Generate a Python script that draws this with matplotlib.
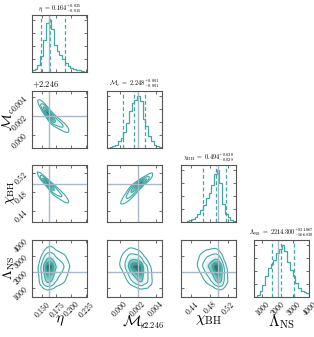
import numpy as np
import matplotlib
matplotlib.use("Agg")
import matplotlib.pyplot as plt
from matplotlib.colors import LinearSegmentedColormap
from matplotlib.ticker import FixedLocator, FuncFormatter, MaxNLocator

plt.rcParams['mathtext.fontset'] = 'cm'
plt.rcParams['font.family'] = 'serif'
plt.rcParams['font.serif'] = ['DejaVu Serif']

# ---------------- data ----------------
labels = [r"$\eta$", r"$\mathcal{M}_c$", r"$\chi_{\rm BH}$", r"$\Lambda_{\rm NS}$"]
titles = [r"$\eta\ =\ 0.164^{+0.025}_{-0.015}$",
          r"$\mathcal{M}_c\ =\ 2.248^{+0.001}_{-0.001}$",
          r"$\chi_{\rm BH}\ =\ 0.494^{+0.020}_{-0.028}$",
          r"$\Lambda_{\rm NS}\ =\ 2214.300^{+831.067}_{-566.830}$"]

eta_range = (0.1336, 0.2266)
mc_range = (2.2446, 2.2507)
chi_range = (0.417, 0.538)
lam_range = (490.0, 4000.0)

eta_counts = [2, 5, 12, 30, 62, 95, 100, 82, 52, 40, 32, 25, 17, 10, 7, 5, 3, 2, 1, 0]
mc_counts = [0, 1, 2, 5, 12, 18, 30, 48, 72, 86, 93, 100, 90, 55, 42, 22, 12, 5, 2, 1]
chi_counts = [0, 0, 1, 2, 4, 8, 14, 22, 32, 45, 55, 72, 92, 100, 75, 35, 15, 8, 2, 1]
lam_counts = [0, 3, 10, 22, 40, 55, 64, 72, 84, 93, 100, 88, 68, 52, 40, 26, 17, 11, 8, 6]

eta_q = [0.149, 0.164, 0.189]
mc_q = [2.24637, 2.24759, 2.2488]
chi_q = [0.466, 0.494, 0.515]
lam_q = [1647.47, 2214.30, 3045.37]

truths = [0.162, 2.248, 0.498, 2000.0]

eta_ticks = [0.150, 0.175, 0.200, 0.225]
mc_ticks = [2.246, 2.248, 2.250]
chi_ticks = [0.44, 0.48, 0.52]
lam_ticks = [1000, 2000, 3000, 4000]
mc_offset = 2.246

# correlation between parameter pairs (row, col)
pair_rho = {(1, 0): -0.93, (2, 0): -0.95, (2, 1): 0.93,
            (3, 0): 0.10, (3, 1): -0.35, (3, 2): -0.30}

ranges = [eta_range, mc_range, chi_range, lam_range]
counts = [eta_counts, mc_counts, chi_counts, lam_counts]
quants = [eta_q, mc_q, chi_q, lam_q]
ticks = [eta_ticks, mc_ticks, chi_ticks, lam_ticks]
fmts = [lambda v: f"${v:.3f}$",
        lambda v: f"${v - mc_offset:.3f}$",
        lambda v: f"${v:.2f}$",
        lambda v: f"${v:.0f}$"]

# ---------------- styling ----------------
teal = "#3ea8a3"
truth_c = "#a9b9c9"
spine_c = "#555555"
dens_cmap = LinearSegmentedColormap.from_list(
    "dens", [(1, 1, 1, 0), (0.80, 0.92, 0.91, 0.7), (0.30, 0.68, 0.66, 1.0), (0.18, 0.40, 0.40, 1.0)])

W, H = 314, 337
fig = plt.figure(figsize=(W / 100, H / 100), dpi=100)
left_px = [32, 107, 181, 254]
top_px = [15, 91, 165, 240]
aw, ah = 55, 56.5

zz = np.linspace(-6, 6, 4001)
Phi = np.cumsum(np.exp(-0.5 * zz ** 2))
Phi /= Phi[-1]


def marginal(k, grid):
    lo, hi = ranges[k]
    edges = np.linspace(lo, hi, len(counts[k]) + 1)
    cen = 0.5 * (edges[1:] + edges[:-1])
    c = np.asarray(counts[k], float)
    f = np.interp(grid, cen, c)
    f = np.clip(f, 0, None) + 2e-3 * c.max()
    F = np.cumsum(f)
    F = (F - 0.5 * f) / F[-1]
    z = np.interp(np.clip(F, 1e-6, 1 - 1e-6), Phi, zz)
    return f, z


def style(ax):
    for s in ax.spines.values():
        s.set_color(spine_c)
        s.set_linewidth(0.8)
    ax.tick_params(direction="in", top=True, right=True, length=2.5, width=0.6,
                   colors=spine_c, labelsize=5.5, pad=1.5, labelcolor="black")


axes = {}
for i in range(4):
    for j in range(i + 1):
        l = left_px[j] / W
        b = 1 - (top_px[i] + ah) / H
        ax = fig.add_axes([l, b, aw / W, ah / H])
        axes[(i, j)] = ax
        style(ax)
        if i == j:
            lo, hi = ranges[i]
            edges = np.linspace(lo, hi, len(counts[i]) + 1)
            ax.stairs(counts[i], edges, color=teal, lw=0.9)
            for q in quants[i]:
                ax.axvline(q, color=teal, ls=(0, (3, 2)), lw=0.9)
            ax.axvline(truths[i], color=truth_c, lw=1.0)
            ax.set_xlim(lo, hi)
            ax.set_ylim(0, 1.1 * max(counts[i]))
            ax.yaxis.set_major_locator(MaxNLocator(5, prune="lower"))
            ax.set_yticklabels([])
            ax.set_title(titles[i], fontsize=4.5, pad=3)
        else:
            xg = np.linspace(*ranges[j], 160)
            yg = np.linspace(*ranges[i], 160)
            fx, zx = marginal(j, xg)
            fy, zy = marginal(i, yg)
            rho = pair_rho[(i, j)]
            ZX, ZY = np.meshgrid(zx, zy)
            FX, FY = np.meshgrid(fx, fy)
            cop = np.exp(-(rho ** 2 * (ZX ** 2 + ZY ** 2) - 2 * rho * ZX * ZY) / (2 * (1 - rho ** 2)))
            p = cop * FX * FY / np.sqrt(1 - rho ** 2)
            pf = p.ravel()
            idx = np.argsort(pf)[::-1]
            cs = np.cumsum(pf[idx])
            cs /= cs[-1]
            V = []
            for s in [0.5, 1.0, 1.5, 2.0]:
                m = 1 - np.exp(-0.5 * s ** 2)
                V.append(pf[idx][min(np.searchsorted(cs, m), len(cs) - 1)])
            V = np.sort(V)
            X, Y = np.meshgrid(xg, yg)
            ax.contourf(X, Y, p, levels=np.linspace(V[1], p.max(), 30), cmap=dens_cmap)
            ax.contour(X, Y, p, levels=V, colors=teal, linewidths=0.8)
            ax.axvline(truths[j], color=truth_c, lw=1.0)
            ax.axhline(truths[i], color=truth_c, lw=1.0)
            ax.set_xlim(*ranges[j])
            ax.set_ylim(*ranges[i])
            ax.yaxis.set_major_locator(FixedLocator(ticks[i]))
            if j == 0:
                ax.yaxis.set_major_formatter(FuncFormatter(lambda v, pos, k=i: fmts[k](v)))
                for t in ax.get_yticklabels():
                    t.set_rotation(45)
                ax.set_ylabel(labels[i], fontsize=10)
                ax.yaxis.set_label_coords(-0.28, 0.5)
            else:
                ax.set_yticklabels([])
        ax.xaxis.set_major_locator(FixedLocator(ticks[j]))
        if i == 3:
            ax.xaxis.set_major_formatter(FuncFormatter(lambda v, pos, k=j: fmts[k](v)))
            for t in ax.get_xticklabels():
                t.set_rotation(45)
            ax.set_xlabel(labels[j], fontsize=11)
            ax.xaxis.set_label_coords(0.5, -0.30)
        else:
            ax.set_xticklabels([])

# offset texts for chirp mass
axes[(1, 0)].text(0.0, 1.02, r"$+2.246$", transform=axes[(1, 0)].transAxes,
                  ha="left", va="bottom", fontsize=6)
axes[(3, 1)].text(0.80, -0.52, r"$+2.246$", transform=axes[(3, 1)].transAxes,
                  ha="center", va="center", fontsize=6)

fig.savefig("out.png", dpi=100)
